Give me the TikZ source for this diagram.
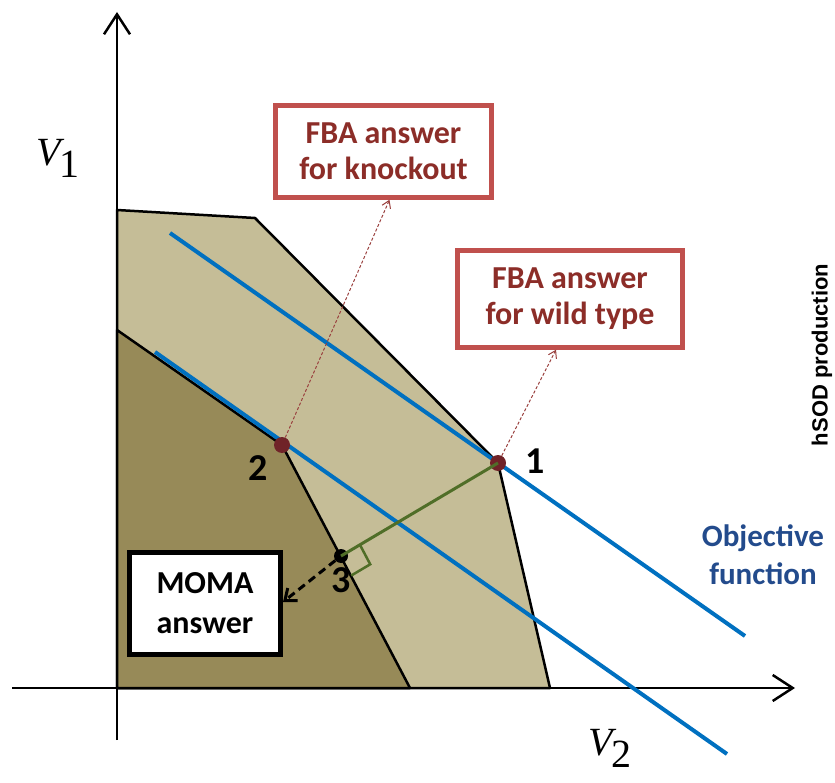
\documentclass[tikz,border=0pt]{standalone}
\usepackage{fontspec}
\setmainfont{Liberation Serif}
\newfontfamily\calib{Carlito}
\newfontfamily\arialfont{Liberation Sans}
\usetikzlibrary{arrows.meta, positioning, calc}
\definecolor{lightreg}{RGB}{197,189,151}
\definecolor{darkreg}{RGB}{151,138,88}
\definecolor{objblue}{RGB}{0,112,192}
\definecolor{objtext}{RGB}{35,75,140}
\definecolor{fbared}{RGB}{192,80,77}
\definecolor{fbatext}{RGB}{140,45,40}
\definecolor{perpgreen}{RGB}{80,110,40}
\definecolor{dotred}{RGB}{112,35,40}
\tikzset{
  axis/.style={line width=2.5pt, -{Straight Barb[length=20pt,width=26pt]}},
  region/.style={draw=black, line width=2.5pt, line join=round},
  objline/.style={draw=objblue, line width=4pt},
  fbabox/.style={rectangle, draw=fbared, line width=4.5pt, fill=white, align=center, text=fbatext, inner sep=0pt, font=\calib\bfseries\fontsize{32}{36}\selectfont},
  momabox/.style={rectangle, draw=black, line width=5pt, fill=white, align=center, inner sep=0pt, font=\calib\bfseries\fontsize{32}{40}\selectfont},
  vertex/.style={circle, fill=dotred, minimum size=16pt, inner sep=0pt},
  vlabel/.style={font=\calib\bfseries\fontsize{38}{38}\selectfont, inner sep=1pt},
  pointer/.style={draw=fbared!80!black, line width=1pt, dash pattern=on 3pt off 2pt, -{Straight Barb[length=7pt,width=9pt]}},
  axlabel/.style={font=\itshape\fontsize{40}{40}\selectfont, inner sep=0pt},
}
\begin{document}
\begin{tikzpicture}[x=1pt, y=-1pt]
\useasboundingbox (0,0) rectangle (835,783);
\filldraw[region, fill=lightreg] (117,210) -- (255,218) -- (498,463) -- (550,688) -- (117,688) -- cycle;
\filldraw[region, fill=darkreg] (117,330) -- (282,445) -- (410,688) -- (117,688) -- cycle;
\draw[axis] (12,688) -- (795,688);
\draw[axis] (117,740) -- (117,12);
\coordinate (obj1a) at (170,233);
\coordinate (obj1b) at (745,636);
\coordinate (obj2a) at (155,352);
\coordinate (obj2b) at (727,754);
\draw[objline] (obj1a) -- (obj1b);
\draw[objline] (obj2a) -- (obj2b);
\node[vertex] (p1) at (498,463) {};
\node[vertex] (p2) at (282,445) {};
\node[vertex, fill=black, minimum size=14pt] (p3) at (341,556) {};
\draw[perpgreen, line width=3pt] (p3.center) -- (p1.center);
\draw[perpgreen, line width=2.5pt] ($(p3.center)!22pt!(p1.center)$) coordinate (q1)
  -- ++(10.3,19.5) coordinate (q2) -- ($(p3.center)+(10.3,19.5)$);
\node[vlabel] (l1) at (535,461) {1};
\node[vlabel] (l2) at (258,468) {2};
\node[vlabel] (l3) at (341,580) {3};
\node[fbabox, minimum width=216pt, minimum height=92pt] (fbako) at (383.5,151.5) {FBA answer\\for knockout};
\node[fbabox, minimum width=225pt, minimum height=97pt] (fbawt) at (570,299) {FBA answer\\for wild type};
\node[momabox, minimum width=151pt, minimum height=102pt] (moma) at (205,603.5) {MOMA\\answer};
\draw[pointer] (p2) -- ([xshift=6pt]fbako.south);
\draw[pointer] (p1) -- ([xshift=-14pt]fbawt.south);
\draw[line width=3pt, dash pattern=on 8pt off 5pt, -{Straight Barb[length=10pt,width=16pt]}] (p3) -- (moma.east |- 0,602);
\node[font=\calib\bfseries\fontsize{31}{38}\selectfont, text=objtext, align=center] (objtxt) at (763,555) {Objective\\function};
\node[axlabel] (v1) at (58,158) {V\kern-1pt\raisebox{-0.3em}{\upshape 1}};
\node[axlabel] (v2) at (610,748) {V\kern-1pt\raisebox{-0.3em}{\upshape 2}};
\node[rotate=90, font=\arialfont\bfseries\fontsize{22}{22}\selectfont] (hsod) at (822,355) {hSOD production};
\end{tikzpicture}
\end{document}
